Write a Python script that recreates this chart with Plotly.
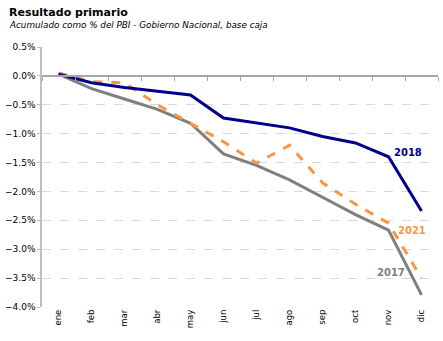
import plotly.graph_objects as go

months = ["ene", "feb", "mar", "abr", "may", "jun", "jul", "ago", "sep", "oct", "nov", "dic"]
y2018 = [0.03, -0.12, -0.20, -0.27, -0.33, -0.73, -0.82, -0.90, -1.05, -1.16, -1.40, -2.34]
y2021 = [0.05, -0.10, -0.12, -0.50, -0.82, -1.14, -1.51, -1.20, -1.85, -2.22, -2.55, -3.50]
y2017 = [0.03, -0.22, -0.40, -0.58, -0.82, -1.35, -1.55, -1.80, -2.10, -2.40, -2.67, -3.79]

c2018 = "#00008B"
c2021 = "#F79646"
c2017 = "#7F7F7F"
font = "DejaVu Sans"

fig = go.Figure()
fig.add_trace(go.Scatter(x=months, y=y2017, mode="lines", line=dict(color=c2017, width=3), name="2017"))
fig.add_trace(go.Scatter(x=months, y=y2021, mode="lines", line=dict(color=c2021, width=3, dash="dash"), name="2021"))
fig.add_trace(go.Scatter(x=months, y=y2018, mode="lines", line=dict(color=c2018, width=3), name="2018"))
# helper trace so the category axis drawn through zero has content
fig.add_trace(go.Scatter(x=months, y=[None] * 12, xaxis="x2", mode="lines", showlegend=False, hoverinfo="skip"))

ymin, ymax = -4.0, 0.5

fig.update_layout(
    width=443, height=341,
    margin=dict(l=36, r=5, t=47, b=34),
    paper_bgcolor="white", plot_bgcolor="white",
    showlegend=False,
    font=dict(family=font, size=9, color="#000000"),
    xaxis=dict(type="category", categoryorder="array", categoryarray=months,
               range=[-0.5, 11.5], tickangle=-90, showgrid=False, showline=False,
               ticks="", tickfont=dict(size=8.5), zeroline=False),
    xaxis2=dict(type="category", categoryorder="array", categoryarray=months,
                range=[-0.5, 11.5], overlaying="x", anchor="free",
                position=(0 - ymin) / (ymax - ymin),
                showticklabels=False, showgrid=False, showline=True,
                linecolor="#A6A6A6", linewidth=1.5, ticks="outside",
                tickson="boundaries", ticklen=4, tickcolor="#A6A6A6"),
    yaxis=dict(range=[ymin, ymax], dtick=0.5, tickformat=".1f", ticksuffix="%",
               showgrid=True, gridcolor="#D9D9D9", griddash="dash", gridwidth=1,
               showline=True, linecolor="#BFBFBF", linewidth=1.5,
               ticks="outside", ticklen=3, tickcolor="#BFBFBF",
               zeroline=False, tickfont=dict(size=9)),
)

fig.add_annotation(text="<b>Resultado primario</b>", xref="paper", yref="paper",
                   x=-36/402, y=1 + 35/260, xanchor="left", yanchor="middle",
                   showarrow=False, font=dict(family=font, size=11))
fig.add_annotation(text="<i>Acumulado como % del PBI - Gobierno Nacional, base caja</i>",
                   xref="paper", yref="paper", x=-36/402, y=1 + 22/260,
                   xanchor="left", yanchor="middle", showarrow=False,
                   font=dict(family=font, size=8.8))

fig.add_annotation(text="<b>2018</b>", x="nov", y=-1.32, xshift=19, showarrow=False,
                   xanchor="center", font=dict(family=font, size=10, color=c2018))
fig.add_annotation(text="<b>2021</b>", x="dic", y=-2.68, xshift=-10, showarrow=False,
                   xanchor="center", font=dict(family=font, size=10, color=c2021))
fig.add_annotation(text="<b>2017</b>", x="nov", y=-3.4, xshift=2, showarrow=False,
                   xanchor="center", font=dict(family=font, size=10, color=c2017))

fig.write_html("out.html")
